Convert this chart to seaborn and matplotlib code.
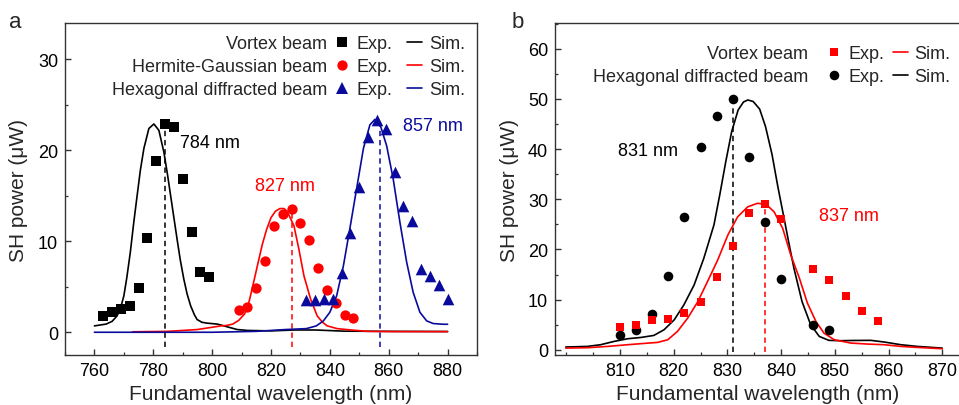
import matplotlib
matplotlib.use("Agg")
import matplotlib.pyplot as plt
import seaborn as sns
from matplotlib.lines import Line2D
from matplotlib.ticker import MultipleLocator

# ---------------- Panel a data ----------------
vortex_exp_x = [763, 766, 769, 772, 775, 778, 781, 784, 787, 790, 793, 796, 799]
vortex_exp_y = [1.8, 2.2, 2.6, 2.9, 4.9, 10.4, 18.8, 22.9, 22.6, 16.8, 11.0, 6.6, 6.1]
hg_exp_x = [809, 812, 815, 818, 821, 824, 827, 830, 833, 836, 839, 842, 845, 848]
hg_exp_y = [2.5, 2.8, 4.9, 7.8, 11.7, 13.0, 13.6, 12.0, 10.1, 7.1, 4.6, 3.2, 1.9, 1.6]
hex_exp_x = [832, 835, 838, 841, 844, 847, 850, 853, 856, 859, 862, 865, 868, 871, 874, 877, 880]
hex_exp_y = [3.5, 3.5, 3.7, 3.7, 6.5, 10.9, 16.0, 21.5, 23.3, 22.3, 17.6, 13.9, 12.2, 7.0, 6.2, 5.2, 3.7]

vortex_sim_x = [760, 762, 764, 766, 767.7, 769, 770, 771, 772.2, 773.3, 774.5, 775.6, 776.8, 778.5,
                780.2, 781.9, 783.6, 784.8, 785.9, 787, 788.1, 789.2, 790.4, 791.5, 792.7, 794,
                794.9, 796.5, 798.3, 800, 801.7, 803.5, 805.1, 808.5, 812, 820, 828, 835, 845, 860, 880]
vortex_sim_y = [0.7, 0.8, 0.9, 1.2, 1.8, 2.8, 4.0, 6.0, 8.8, 11.9, 15.0, 17.8, 20.2, 22.4,
                22.9, 22.2, 19.8, 17.4, 15.0, 12.6, 10.2, 7.9, 5.8, 4.2, 2.9, 1.9,
                1.4, 1.1, 1.0, 0.95, 0.9, 0.75, 0.6, 0.3, 0.2, 0.15, 0.25, 0.25, 0.12, 0.1, 0.08]
hg_sim_x = [773, 785, 795, 800, 803, 805, 807, 809, 811, 812.5, 813.6, 815.3, 817, 818.5, 820,
            821.5, 823, 824.4, 825.5, 826.5, 827.8, 829.5, 831.2, 833.5, 835.7, 837.5, 839.1,
            842.5, 847, 852.7, 861.8, 880]
hg_sim_y = [0.05, 0.1, 0.3, 0.55, 0.7, 0.75, 0.9, 1.3, 2.0, 3.3, 4.8, 7.2, 9.6, 11.3, 12.6,
            13.3, 13.6, 13.6, 13.3, 12.6, 11.7, 9.1, 6.2, 3.6, 1.8, 1.1, 0.7,
            0.4, 0.26, 0.1, 0.07, 0.07]
hex_sim_x = [760, 800, 815, 825, 832, 835.4, 837.8, 840, 842.3, 844.6, 846.8, 849.1, 851.4, 853.6,
             855.3, 857, 859.3, 861.5, 863.8, 866.1, 868.3, 870.6, 872.9, 875.1, 878.5, 880]
hex_sim_y = [0.0, 0.0, 0.1, 0.3, 0.4, 0.7, 1.25, 2.2, 4.0, 7.3, 11.4, 15.8, 20.2, 22.8,
             23.4, 22.9, 20.5, 16.9, 12.1, 7.7, 4.4, 2.2, 1.25, 0.96, 0.88, 0.88]

peaks_a = [784, 827, 857]
peak_tops_a = [22.2, 13.2, 23.0]
peak_labels_a = ["784 nm", "827 nm", "857 nm"]

# ---------------- Panel b data ----------------
vortexb_exp_x = [810, 813, 816, 819, 822, 825, 828, 831, 834, 837, 840, 846, 849, 852, 855, 858]
vortexb_exp_y = [4.45, 4.97, 5.84, 6.17, 7.3, 9.48, 14.5, 20.7, 27.2, 29.1, 26.0, 16.0, 13.9, 10.7, 7.69, 5.63]
hexb_exp_x = [810, 813, 816, 819, 822, 825, 828, 831, 834, 837, 840, 846, 849]
hexb_exp_y = [2.98, 3.85, 7.1, 14.7, 26.5, 40.4, 46.7, 49.9, 38.4, 25.4, 14.1, 4.97, 3.98]

vortexb_sim_x = [799.9, 803.9, 807.7, 811.4, 814.5, 817.0, 818.9, 820.7, 822.6, 824.5, 826.3, 828.2,
                 830.1, 831.9, 833.8, 835.6, 837.2, 838.7, 840.3, 841.8, 843.4, 844.9, 846.5, 848.0,
                 849.9, 853.0, 856.1, 859.2, 862.3, 865.4, 870.0]
vortexb_sim_y = [0.33, 0.4, 0.66, 1.0, 1.26, 1.46, 1.99, 3.65, 6.3, 9.6, 13.6, 17.9,
                 22.9, 26.5, 28.5, 29.2, 29.0, 27.5, 24.2, 18.9, 14.3, 9.3, 5.6, 3.3,
                 1.99, 1.33, 1.13, 1.0, 0.66, 0.46, 0.2]
hexb_sim_x = [799.9, 803.9, 806.4, 808.9, 811.4, 813.9, 816.3, 818.2, 820.1, 821.9, 823.8, 825.6,
              827.5, 828.6, 829.7, 830.8, 832.0, 833.0, 833.8, 834.8, 836.0, 837.1, 838.3, 839.4,
              840.5, 841.5, 842.4, 843.9, 845.5, 847.1, 848.9, 851.0, 853.6, 856.7, 859.2, 862.3,
              865.4, 870.0]
hexb_sim_y = [0.54, 0.66, 1.0, 1.66, 2.19, 2.45, 2.85, 3.98, 5.96, 8.95, 12.9, 18.2,
              24.9, 31.0, 37.5, 43.5, 47.8, 49.4, 49.8, 49.5, 48.0, 44.5, 39.0, 32.5,
              26.5, 21.0, 16.2, 9.6, 5.0, 2.66, 1.87, 1.8, 1.85, 1.87, 1.54, 1.0,
              0.66, 0.33]

peaks_b = [831, 837]
peak_tops_b = [48.4, 29.0]
peak_labels_b = ["831 nm", "837 nm"]

beam_names_a = ["Vortex beam", "Hermite-Gaussian beam", "Hexagonal diffracted beam"]
beam_names_b = ["Vortex beam", "Hexagonal diffracted beam"]

# ---------------- Styling ----------------
sns.set_style("ticks")
plt.rcParams["font.family"] = ["Liberation Sans", "DejaVu Sans"]
plt.rcParams["axes.linewidth"] = 1.0
plt.rcParams["xtick.direction"] = "in"
plt.rcParams["ytick.direction"] = "in"

BLUE = "#0a0a9c"
RED = "#ff0000"
BLACK = "#000000"
FS_TICK = 13
FS_LAB = 15
FS_LEG = 13

W, H = 959, 406
fig = plt.figure(figsize=(W / 100, H / 100), dpi=100)
ax1 = fig.add_axes([65 / W, 1 - 356 / H, 412 / W, 332 / H])
ax2 = fig.add_axes([555 / W, 1 - 356 / H, 406 / W, 332 / H])


def style_axes(ax):
    ax.tick_params(which="major", length=4.5, width=1.0, labelsize=FS_TICK, colors="#333333",
                   labelcolor="black", pad=5)
    ax.tick_params(which="minor", length=2.5, width=0.9, colors="#333333")
    for s in ax.spines.values():
        s.set_color("#333333")


# ---------------- Panel a ----------------
lw = 1.2
sns.lineplot(x=vortex_sim_x, y=vortex_sim_y, color=BLACK, lw=lw, ax=ax1, zorder=2)
sns.lineplot(x=hg_sim_x, y=hg_sim_y, color=RED, lw=lw, ax=ax1, zorder=2)
sns.lineplot(x=hex_sim_x, y=hex_sim_y, color=BLUE, lw=lw, ax=ax1, zorder=2)
sns.scatterplot(x=vortex_exp_x, y=vortex_exp_y, marker="s", color=BLACK, s=44, linewidth=0, ax=ax1, zorder=3)
sns.scatterplot(x=hg_exp_x, y=hg_exp_y, marker="o", color=RED, s=55, linewidth=0, ax=ax1, zorder=3)
sns.scatterplot(x=hex_exp_x, y=hex_exp_y, marker="^", color=BLUE, s=70, linewidth=0, ax=ax1, zorder=3)

dash = (0, (3.5, 2.5))
for xv, top, c in zip(peaks_a, peak_tops_a, [BLACK, RED, BLUE]):
    ax1.vlines(xv, -1.6, top, colors=c, linestyles=dash, lw=1.1, zorder=1)

ax1.text(789.1, 20.9, peak_labels_a[0], color=BLACK, fontsize=FS_LEG, va="center", ha="left")
ax1.text(814.6, 16.1, peak_labels_a[1], color=RED, fontsize=FS_LEG, va="center", ha="left")
ax1.text(865.0, 22.7, peak_labels_a[2], color=BLUE, fontsize=FS_LEG, va="center", ha="left")

ax1.set_xlim(750, 890)
ax1.set_ylim(-2.5, 34)
ax1.xaxis.set_major_locator(MultipleLocator(20))
ax1.xaxis.set_minor_locator(MultipleLocator(10))
ax1.yaxis.set_major_locator(MultipleLocator(10))
ax1.yaxis.set_minor_locator(MultipleLocator(5))
ax1.set_xlabel("Fundamental wavelength (nm)", fontsize=FS_LAB, labelpad=4)
ax1.set_ylabel("SH power (\u03bcW)", fontsize=FS_LAB, labelpad=7)
style_axes(ax1)

# ---------------- Panel b ----------------
sns.lineplot(x=hexb_sim_x, y=hexb_sim_y, color=BLACK, lw=lw, ax=ax2, zorder=2)
sns.lineplot(x=vortexb_sim_x, y=vortexb_sim_y, color=RED, lw=lw, ax=ax2, zorder=2)
sns.scatterplot(x=hexb_exp_x, y=hexb_exp_y, marker="o", color=BLACK, s=48, linewidth=0, ax=ax2, zorder=3)
sns.scatterplot(x=vortexb_exp_x, y=vortexb_exp_y, marker="s", color=RED, s=38, linewidth=0, ax=ax2, zorder=3)
for xv, top, c in zip(peaks_b, peak_tops_b, [BLACK, RED]):
    ax2.vlines(xv, -0.5, top, colors=c, linestyles=dash, lw=1.1, zorder=1)
ax2.text(809.6, 39.7, peak_labels_b[0], color=BLACK, fontsize=FS_LEG, va="center", ha="left")
ax2.text(847.0, 26.8, peak_labels_b[1], color=RED, fontsize=FS_LEG, va="center", ha="left")

ax2.set_xlim(797.9, 873.5)
ax2.set_ylim(-1.05, 65.15)
ax2.xaxis.set_major_locator(MultipleLocator(10))
ax2.xaxis.set_minor_locator(MultipleLocator(5))
ax2.yaxis.set_major_locator(MultipleLocator(10))
ax2.yaxis.set_minor_locator(MultipleLocator(5))
ax2.set_xticks([810, 820, 830, 840, 850, 860, 870])
ax2.set_xlabel("Fundamental wavelength (nm)", fontsize=FS_LAB, labelpad=4)
ax2.set_ylabel("SH power (\u03bcW)", fontsize=FS_LAB, labelpad=6)
style_axes(ax2)


# ---------------- Legends ----------------
def make_legend(ax, exp_handles, sim_colors, anchor, names, name_x, colsp):
    n = len(exp_handles)
    sim_handles = [Line2D([], [], color=c, lw=1.2) for c in sim_colors]
    leg = ax.legend(exp_handles + sim_handles, ["Exp."] * n + ["Sim."] * n, ncol=2,
                    loc="upper left", bbox_to_anchor=anchor, frameon=False,
                    fontsize=FS_LEG, handlelength=0.85, handletextpad=0.37,
                    columnspacing=colsp, labelspacing=0.33, borderpad=0, borderaxespad=0)
    fig.canvas.draw()
    inv = ax.transAxes.inverted()
    texts = leg.get_texts()[:n]
    for t, name in zip(texts, names):
        bb = t.get_window_extent()
        yc = inv.transform(((bb.x0 + bb.x1) / 2, (bb.y0 + bb.y1) / 2))[1]
        ax.text(name_x, yc, name, transform=ax.transAxes, fontsize=FS_LEG, ha="right", va="center")


hand_a = [Line2D([], [], marker="s", color=BLACK, ls="none", markersize=6.6, markeredgewidth=0),
          Line2D([], [], marker="o", color=RED, ls="none", markersize=7.4, markeredgewidth=0),
          Line2D([], [], marker="^", color=BLUE, ls="none", markersize=8.4, markeredgewidth=0)]
make_legend(ax1, hand_a, [BLACK, RED, BLUE], (0.653, 0.963), beam_names_a, 0.636, 0.83)

hand_b = [Line2D([], [], marker="s", color=RED, ls="none", markersize=6.2, markeredgewidth=0),
          Line2D([], [], marker="o", color=BLACK, ls="none", markersize=6.9, markeredgewidth=0)]
make_legend(ax2, hand_b, [RED, BLACK], (0.669, 0.934), beam_names_b, 0.624, 0.45)

fig.text(9 / W, 1 - 28 / H, "a", fontsize=16, ha="left", va="baseline")
fig.text(512 / W, 1 - 28 / H, "b", fontsize=16, ha="left", va="baseline")

fig.savefig("out.png", dpi=100)
